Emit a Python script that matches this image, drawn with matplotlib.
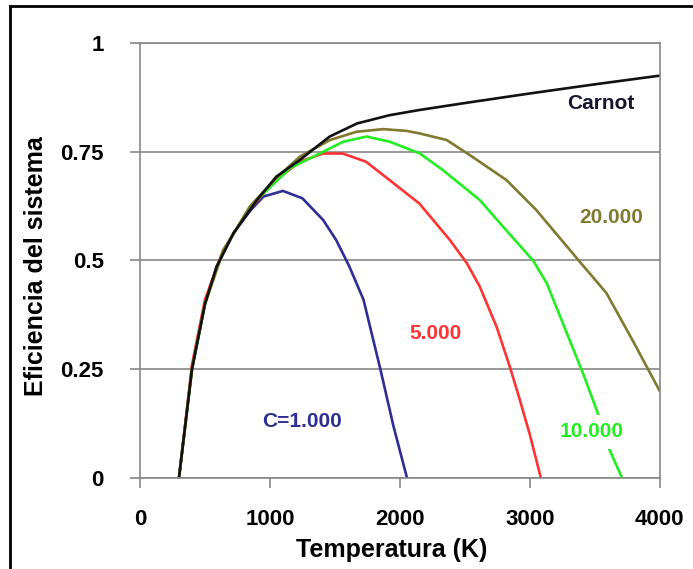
import matplotlib.pyplot as plt
from matplotlib.lines import Line2D

plt.rcParams['font.family'] = ['Liberation Sans', 'DejaVu Sans']
plt.rcParams['font.weight'] = 'bold'

# Carnot limit
t_carnot = [300, 400, 500, 590, 720, 900, 1050, 1230, 1310, 1460, 1670, 1920, 2150, 2500, 3000, 3500, 4000]
eff_carnot = [0, 0.25, 0.40, 0.486, 0.563, 0.639, 0.693, 0.731, 0.75, 0.785, 0.815, 0.834, 0.846, 0.862, 0.884, 0.905, 0.925]

# C = 1.000
t_c1 = [300, 400, 500, 590, 720, 850, 950, 1100, 1250, 1410, 1510, 1610, 1720, 1850, 1950, 2055]
eff_c1 = [0, 0.25, 0.40, 0.486, 0.563, 0.615, 0.647, 0.66, 0.643, 0.593, 0.547, 0.487, 0.41, 0.25, 0.12, 0]

# C = 5.000
t_c5 = [300, 400, 500, 640, 820, 1030, 1230, 1410, 1560, 1740, 1920, 2150, 2385, 2515, 2615, 2745, 2846, 2923, 3000, 3085]
eff_c5 = [0, 0.26, 0.41, 0.524, 0.609, 0.681, 0.727, 0.746, 0.746, 0.727, 0.685, 0.631, 0.547, 0.494, 0.44, 0.347, 0.256, 0.18, 0.10, 0]

# C = 10.000
t_c10 = [300, 400, 500, 640, 846, 1154, 1410, 1564, 1744, 1923, 2154, 2330, 2615, 2770, 3025, 3130, 3285, 3410, 3515, 3615, 3710]
eff_c10 = [0, 0.25, 0.40, 0.522, 0.624, 0.712, 0.75, 0.773, 0.785, 0.773, 0.746, 0.708, 0.639, 0.586, 0.50, 0.448, 0.333, 0.24, 0.156, 0.064, 0]

# C = 20.000
t_c20 = [300, 400, 500, 640, 850, 1050, 1231, 1462, 1667, 1872, 2051, 2154, 2360, 2540, 2820, 3050, 3385, 3590, 3790, 4000]
eff_c20 = [0, 0.25, 0.40, 0.522, 0.626, 0.69, 0.739, 0.777, 0.796, 0.802, 0.798, 0.792, 0.777, 0.742, 0.685, 0.616, 0.497, 0.425, 0.317, 0.20]

fig = plt.figure(figsize=(6.93, 5.69), dpi=100)
ax = fig.add_axes([0.202, 0.160, 0.750, 0.7644])

ax.plot(t_c1, eff_c1, color='#2e2e96', lw=1.9)
ax.plot(t_c5, eff_c5, color='#ff3333', lw=1.9)
ax.plot(t_c10, eff_c10, color='#22ee22', lw=1.9)
ax.plot(t_c20, eff_c20, color='#807a30', lw=1.9)
ax.plot(t_carnot, eff_carnot, color='#111111', lw=1.9)

ax.set_xlim(0, 4000)
ax.set_ylim(0, 1)
ax.set_xticks([0, 1000, 2000, 3000, 4000])
ax.set_yticks([0, 0.25, 0.5, 0.75, 1])
ax.set_yticklabels(['0', '0.25', '0.5', '0.75', '1'])
ax.yaxis.grid(True, color='#888888', lw=1.2)
ax.set_axisbelow(True)
for s in ax.spines.values():
    s.set_color('#888888')
    s.set_linewidth(1.2)
ax.tick_params(direction='out', length=7, width=1.2, color='#888888', labelsize=16)
ax.tick_params(axis='x', pad=15)
ax.tick_params(axis='y', pad=19)

ax.set_xlabel('Temperatura (K)', fontsize=18, fontweight='bold')
ax.set_ylabel('Eficiencia del sistema', fontsize=18, fontweight='bold')
ax.xaxis.set_label_coords(0.485, -0.138)
ax.yaxis.set_label_coords(-0.177, 0.487)

ax.text(3546, 0.862, 'Carnot', color='#151530', fontsize=15, ha='center', va='center')
ax.text(3623, 0.598, '20.000', color='#807a30', fontsize=15, ha='center', va='center')
ax.text(2277, 0.331, '5.000', color='#ff3333', fontsize=15, ha='center', va='center')
ax.text(3477, 0.106, '10.000', color='#22ee22', fontsize=15, ha='center', va='center',
        bbox=dict(boxstyle='square,pad=0.35', fc='white', ec='none'), zorder=5)
ax.text(1246, 0.129, 'C=1.000', color='#2e2e96', fontsize=15, ha='center', va='center')

# outer frame (left and top edges)
fig.add_artist(Line2D([10 / 693, 10 / 693], [0, 1 - 6 / 569], color='black', lw=2))
fig.add_artist(Line2D([10 / 693, 1], [1 - 6 / 569, 1 - 6 / 569], color='black', lw=2))

fig.savefig('out.png', dpi=100)
